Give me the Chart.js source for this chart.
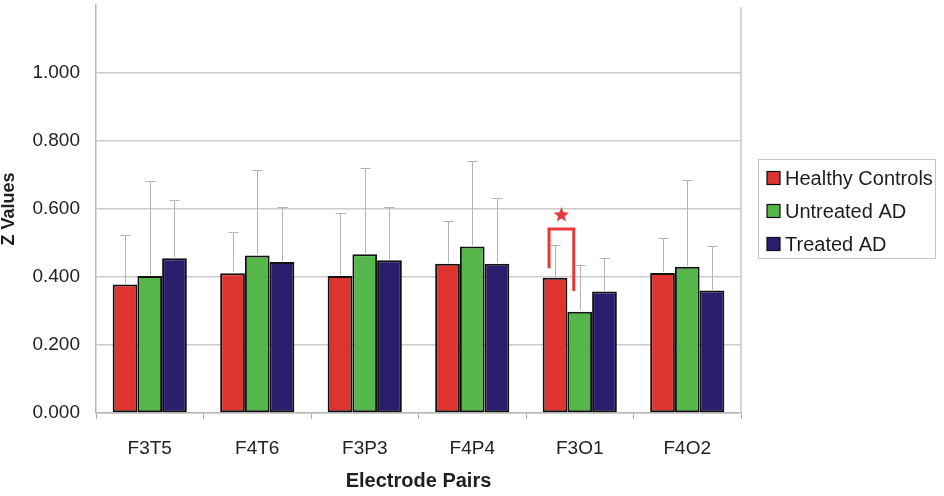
<!DOCTYPE html>
<html>
<head>
<meta charset="utf-8">
<script src="https://cdn.jsdelivr.net/npm/chart.js@4.4.1/dist/chart.umd.min.js"></script>
<style>
  html, body { margin: 0; padding: 0; background: #ffffff; }
  #wrap { width: 944px; height: 496px; }
</style>
</head>
<body>
<div id="wrap"><canvas id="c" width="944" height="496"></canvas></div>
<script>
// ---- data ----
const categories = ['F3T5', 'F4T6', 'F3P3', 'F4P4', 'F3O1', 'F4O2'];
const seriesNames = ['Healthy Controls', 'Untreated AD', 'Treated AD'];
const healthyValues   = [0.378, 0.411, 0.403, 0.439, 0.398, 0.412];
const healthyErrors   = [0.146, 0.122, 0.186, 0.127, 0.096, 0.102];
const untreatedValues = [0.403, 0.463, 0.467, 0.490, 0.298, 0.430];
const untreatedErrors = [0.278, 0.252, 0.253, 0.252, 0.136, 0.256];
const treatedValues   = [0.455, 0.444, 0.449, 0.439, 0.357, 0.360];
const treatedErrors   = [0.172, 0.163, 0.158, 0.193, 0.098, 0.130];
const yTickValues = [0, 0.2, 0.4, 0.6, 0.8, 1.0];
// significance bracket (F3O1, healthy vs untreated): top, left end, right end, star level
const sigCategory = 'F3O1';
const sigLevels = [0.541, 0.426, 0.359, 0.582];

const colors = ['#de3430', '#55b649', '#2a1d6e'];

const errorBarPlugin = {
  id: 'errorBars',
  afterDatasetsDraw(chart) {
    const ctx = chart.ctx;
    const y = chart.scales.y;
    ctx.save();
    ctx.strokeStyle = '#b4b4b4';
    ctx.lineWidth = 1;
    chart.data.datasets.forEach((ds, di) => {
      const meta = chart.getDatasetMeta(di);
      meta.data.forEach((bar, i) => {
        const v = ds.data[i];
        const top = y.getPixelForValue(v + ds.errors[i]);
        const base = y.getPixelForValue(v);
        const x = Math.round(bar.x) + 0.5;
        ctx.beginPath();
        ctx.moveTo(x, base - 1);
        ctx.lineTo(x, Math.round(top) + 0.5);
        ctx.moveTo(x - 5, Math.round(top) + 0.5);
        ctx.lineTo(x + 5, Math.round(top) + 0.5);
        ctx.stroke();
      });
    });
    ctx.restore();
  }
};

const extrasPlugin = {
  id: 'extras',
  afterDraw(chart) {
    const ctx = chart.ctx;
    const area = chart.chartArea;
    const y = chart.scales.y;
    ctx.save();
    // right border of plot area
    ctx.strokeStyle = '#c8c8c8';
    ctx.lineWidth = 1.5;
    ctx.beginPath();
    ctx.moveTo(area.right, area.top + 2);
    ctx.lineTo(area.right, area.bottom);
    ctx.stroke();

    // significance bracket
    const ci = categories.indexOf(sigCategory);
    const b0 = chart.getDatasetMeta(0).data[ci];
    const b1 = chart.getDatasetMeta(1).data[ci];
    const xl = b0.x - 6, xr = b1.x - 6;
    const yt = y.getPixelForValue(sigLevels[0]);
    ctx.strokeStyle = '#e53a3a';
    ctx.lineWidth = 3;
    ctx.lineJoin = 'miter';
    ctx.beginPath();
    ctx.moveTo(xl, y.getPixelForValue(sigLevels[1]));
    ctx.lineTo(xl, yt);
    ctx.lineTo(xr, yt);
    ctx.lineTo(xr, y.getPixelForValue(sigLevels[2]));
    ctx.stroke();
    // star
    const sx = (xl + xr) / 2, sy = y.getPixelForValue(sigLevels[3]);
    const R = 8, r = 3.4;
    ctx.fillStyle = '#e53a3a';
    ctx.beginPath();
    for (let k = 0; k < 10; k++) {
      const rad = k % 2 === 0 ? R : r;
      const a = -Math.PI / 2 + k * Math.PI / 5;
      const px = sx + rad * Math.cos(a), py = sy + rad * Math.sin(a);
      if (k === 0) ctx.moveTo(px, py); else ctx.lineTo(px, py);
    }
    ctx.closePath();
    ctx.fill();

    // legend
    const lx = 758, ly = 159, lw = 177, lh = 99;
    ctx.strokeStyle = '#c4c4c4';
    ctx.lineWidth = 1;
    ctx.strokeRect(lx + 0.5, ly + 0.5, lw, lh);
    ctx.font = '20px "Liberation Sans", Arial, sans-serif';
    ctx.textBaseline = 'middle';
    ctx.textAlign = 'left';
    chart.data.datasets.forEach((ds, i) => {
      const ry = 178 + i * 33;
      ctx.fillStyle = ds.backgroundColor;
      ctx.fillRect(767, ry - 6.5, 13, 13);
      ctx.strokeStyle = '#111';
      ctx.lineWidth = 1.2;
      ctx.strokeRect(767, ry - 6.5, 13, 13);
      ctx.fillStyle = '#1e1e1e';
      ctx.fillText(ds.label, 785, ry + 1);
    });
    ctx.restore();
  }
};

new Chart(document.getElementById('c'), {
  type: 'bar',
  data: {
    labels: categories,
    datasets: [
      { label: seriesNames[0], data: healthyValues, errors: healthyErrors, backgroundColor: colors[0] },
      { label: seriesNames[1], data: untreatedValues, errors: untreatedErrors, backgroundColor: colors[1] },
      { label: seriesNames[2], data: treatedValues, errors: treatedErrors, backgroundColor: colors[2] }
    ]
  },
  options: {
    responsive: false,
    animation: false,
    devicePixelRatio: 1,
    layout: { padding: { left: 0, right: 203, top: 5, bottom: 0 } },
    datasets: {
      bar: {
        borderColor: '#111111',
        borderWidth: 2,
        borderSkipped: false,
        categoryPercentage: 0.69,
        barPercentage: 1.0
      }
    },
    plugins: {
      legend: { display: false },
      tooltip: { enabled: false }
    },
    scales: {
      x: {
        afterFit(s) { s.height = 83; s.paddingLeft = 0; s.paddingRight = 0; },
        grid: { display: true, drawOnChartArea: false, drawTicks: true, tickLength: 6, offset: true, color: '#b0b0b0', lineWidth: 1 },
        border: { display: true, color: '#b8b8b8', width: 1.5 },
        ticks: {
          padding: 18,
          color: '#222222',
          font: { family: '"Liberation Sans", Arial, sans-serif', size: 19 }
        },
        title: {
          display: true,
          text: 'Electrode Pairs',
          color: '#1e1e1e',
          font: { family: '"Liberation Sans", Arial, sans-serif', size: 20, weight: 'bold', lineHeight: 1.2 },
          padding: { top: 0, bottom: 3 }
        }
      },
      y: {
        min: 0,
        max: 1.2,
        afterFit(s) { s.width = 96; s.paddingTop = 0; s.paddingBottom = 0; },
        afterBuildTicks(s) {
          s.ticks = yTickValues.concat([1.2]).map(v => ({ value: v }));
        },
        grid: {
          drawTicks: false,
          color: (c) => (c.tick && c.tick.value > 1.1) ? 'rgba(0,0,0,0)' : '#cccccc',
          lineWidth: 1.5
        },
        border: { display: true, color: '#b8b8b8', width: 1.5 },
        ticks: {
          padding: 16,
          color: '#222222',
          font: { family: '"Liberation Sans", Arial, sans-serif', size: 19 },
          callback: (v) => v > 1.1 ? '' : Number(v).toFixed(3)
        },
        title: {
          display: true,
          text: 'Z Values',
          color: '#1e1e1e',
          font: { family: '"Liberation Sans", Arial, sans-serif', size: 18, weight: 'bold', lineHeight: 1 },
          padding: { top: 0, bottom: 0 }
        }
      }
    }
  },
  plugins: [errorBarPlugin, extrasPlugin]
});
</script>
</body>
</html>
